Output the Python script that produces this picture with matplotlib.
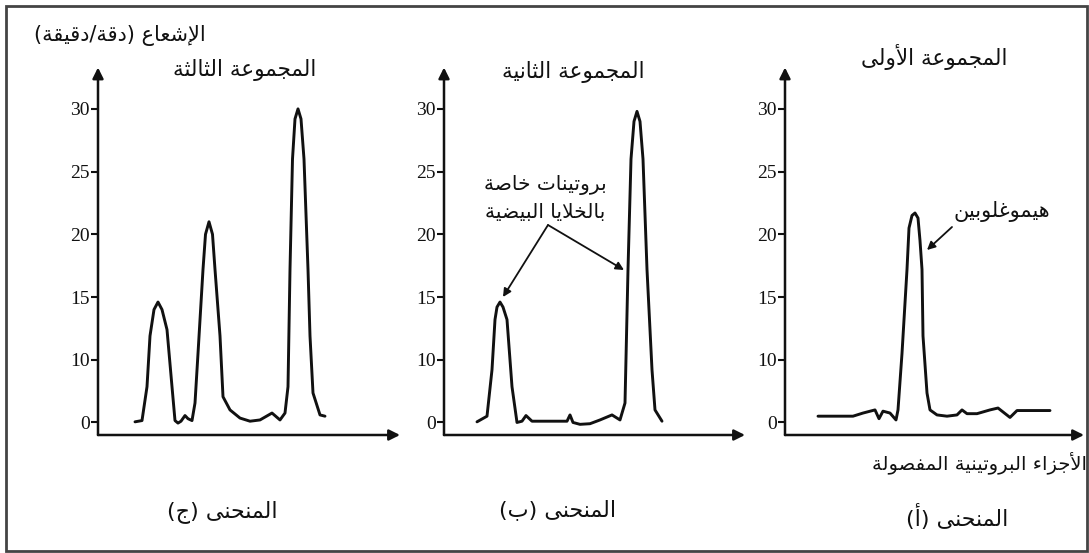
import numpy as np
import matplotlib
matplotlib.use("Agg")
import matplotlib.pyplot as plt
from matplotlib.patches import Rectangle

W, H = 1089, 553

# --- data (x = position along the fraction axis, y = radioactivity) ---
x_c = [3.7, 4.4, 4.9, 5.2, 5.6, 6.0, 6.4, 6.9, 7.4, 7.7, 8.0, 8.3, 8.7, 9.0, 9.4, 9.7,
       10.0, 10.5, 10.75, 11.1, 11.45, 11.7, 12.2, 12.5, 13.2, 14.2, 15.2, 16.2, 17.4,
       18.2, 18.7, 19.0, 19.2, 19.45, 19.7, 20.0, 20.3, 20.6, 21.0, 21.2, 21.5, 22.2, 22.7]
y_c = [0.1, 0.3, 5.7, 11.9, 14.0, 14.6, 14.0, 12.4, 5.7, 0.3, -0.1, 0.2, 1.1, 0.6, 0.3, 3.1,
       10.5, 17.2, 20.0, 21.0, 20.0, 17.2, 11.9, 4.1, 2.0, 0.7, 0.2, 0.4, 1.5,
       0.4, 1.5, 5.7, 17.2, 26.0, 29.2, 30.0, 29.2, 26.0, 17.2, 11.9, 4.7, 1.2, 1.0]

x_b = [3.3, 4.3, 4.8, 5.1, 5.3, 5.6, 5.9, 6.3, 6.8, 7.3, 7.8, 8.2, 8.8, 12.3, 12.6, 12.9,
       13.6, 14.6, 15.6, 16.8, 17.6, 18.1, 18.4, 18.7, 19.0, 19.3, 19.6, 19.9, 20.3,
       20.8, 21.1, 21.8]
y_b = [0.1, 1.0, 8.4, 13.2, 14.2, 14.6, 14.2, 13.2, 5.7, 0.0, 0.2, 1.1, 0.2, 0.2, 1.2, 0.0,
       -0.3, -0.2, 0.4, 1.2, 0.4, 3.1, 17.2, 26.0, 29.0, 29.8, 29.0, 26.0, 17.2,
       8.4, 2.0, 0.2]

x_a = [3.3, 6.8, 7.8, 9.0, 9.4, 9.8, 10.5, 11.1, 11.3, 11.7, 12.2, 12.4, 12.7, 13.0, 13.3,
       13.5, 13.7, 13.8, 14.2, 14.5, 15.2, 16.2, 17.2, 17.7, 18.2, 19.2, 20.5, 21.3,
       22.5, 23.2, 26.5]
y_a = [1.0, 1.0, 1.5, 2.0, 0.6, 1.8, 1.5, 0.4, 2.0, 10.5, 17.2, 20.5, 21.5, 21.7, 21.3,
       19.5, 17.2, 11.9, 4.7, 2.0, 1.2, 1.0, 1.2, 2.0, 1.4, 1.4, 2.0, 2.3,
       0.8, 1.9, 1.9]

y_ticks = [0, 10, 15, 20, 25, 30]
y_ticklabels = ['0', '10', '15', '20', '25', '30']

y_label = 'الإشعاع (دقة/دقيقة)'
x_label = 'الأجزاء البروتينية المفصولة'
titles = ['المجموعة الثالثة', 'المجموعة الثانية', 'المجموعة الأولى']
curves = ['المنحنى (ج)', 'المنحنى (ب)', 'المنحنى (أ)']
note_b = ['بروتينات خاصة', 'بالخلايا البيضية']
note_a = 'هيموغلوبين'

# --- small arabic shaper (presentation forms + visual order) ---
DUAL = {'ب': 0xFE8F, 'ت': 0xFE95, 'ث': 0xFE99, 'ج': 0xFE9D, 'ح': 0xFEA1, 'خ': 0xFEA5,
        'س': 0xFEB1, 'ش': 0xFEB5, 'ص': 0xFEB9, 'ض': 0xFEBD, 'ط': 0xFEC1, 'ظ': 0xFEC5,
        'ع': 0xFEC9, 'غ': 0xFECD, 'ف': 0xFED1, 'ق': 0xFED5, 'ك': 0xFED9, 'ل': 0xFEDD,
        'م': 0xFEE1, 'ن': 0xFEE5, 'ه': 0xFEE9, 'ي': 0xFEF1}
RIGHT = {'آ': 0xFE81, 'أ': 0xFE83, 'إ': 0xFE87, 'ا': 0xFE8D, 'ة': 0xFE93, 'د': 0xFEA9,
         'ذ': 0xFEAB, 'ر': 0xFEAD, 'ز': 0xFEAF, 'و': 0xFEED, 'ى': 0xFEEF,
         '\uFEF5': 0xFEF5, '\uFEF7': 0xFEF7, '\uFEF9': 0xFEF9, '\uFEFB': 0xFEFB}
NONJOIN = {'ء': 0xFE80}
LAMALEF = {'آ': '\uFEF5', 'أ': '\uFEF7', 'إ': '\uFEF9', 'ا': '\uFEFB'}


def ar(s):
    chars = []
    i = 0
    while i < len(s):
        if s[i] == 'ل' and i + 1 < len(s) and s[i + 1] in LAMALEF:
            chars.append(LAMALEF[s[i + 1]])
            i += 2
        else:
            chars.append(s[i])
            i += 1
    res = []
    for k, c in enumerate(chars):
        prev = chars[k - 1] if k > 0 else ''
        nxt = chars[k + 1] if k + 1 < len(chars) else ''
        jp = prev in DUAL and (c in DUAL or c in RIGHT)
        jn = c in DUAL and (nxt in DUAL or nxt in RIGHT)
        if c in DUAL:
            res.append(chr(DUAL[c] + (3 if jp and jn else 2 if jn else 1 if jp else 0)))
        elif c in RIGHT:
            res.append(chr(RIGHT[c] + (1 if jp else 0)))
        elif c in NONJOIN:
            res.append(chr(NONJOIN[c]))
        else:
            res.append(c)
    vis = ''.join(reversed(res))
    return vis.translate(str.maketrans('()', ')('))


# the printed axis puts "0" where 5 would sit, so squeeze 0..10 into one step
def fwd(v):
    v = np.asarray(v, dtype=float)
    return np.where(v < 10, 5 + v / 2, v)


def inv(p):
    p = np.asarray(p, dtype=float)
    return np.where(p < 10, (p - 5) * 2, p)


fig = plt.figure(figsize=(W / 100, H / 100), dpi=100)
AR = 'DejaVu Sans'
NUM = 'Liberation Serif'
INK = '#111111'


def px(x, y):
    return x / W, 1 - y / H


# panel boxes in pixels: (y axis x, arrow tip x)
panels = [(98, 400), (444, 745), (785, 1084)]
data = [(x_c, y_c), (x_b, y_b), (x_a, y_a)]
y_bot, y_top = 435, 67.5
for (x0, x1), (xs, ys) in zip(panels, data):
    ax = fig.add_axes([x0 / W, 1 - y_bot / H, (x1 - x0) / W, (y_bot - y_top) / H])
    ax.set_yscale('function', functions=(fwd, inv))
    ax.set_xlim(0, (x1 - x0) / 10)
    ax.set_ylim(-2.0, 33.3)
    ax.plot(xs, ys, color=INK, lw=2.1, solid_joinstyle='round', solid_capstyle='round')
    for s in ax.spines.values():
        s.set_visible(False)
    ax.set_xticks([])
    ax.set_yticks(y_ticks)
    ax.set_yticklabels(y_ticklabels, fontfamily=NUM, fontsize=14)
    ax.yaxis.set_minor_locator(matplotlib.ticker.NullLocator())
    ax.tick_params(axis='y', length=5, width=1.5, pad=1, colors=INK)
    ax.patch.set_alpha(0)
    arr = dict(arrowstyle='-|>', color=INK, lw=1.8, mutation_scale=16, shrinkA=0, shrinkB=0)
    ax.annotate('', xy=(1, 0), xytext=(0, 0), xycoords='axes fraction', arrowprops=arr, annotation_clip=False)
    ax.annotate('', xy=(0, 1), xytext=(0, 0), xycoords='axes fraction', arrowprops=arr, annotation_clip=False)

# texts
fig.text(*px(120, 35), ar(y_label), family=AR, fontsize=15, ha='center', va='center', color=INK)
title_pos = [(245, 70), (573, 72), (934, 57)]
for t, (x, y) in zip(titles, title_pos):
    fig.text(*px(x, y), ar(t), family=AR, fontsize=15.5, ha='center', va='center', color=INK)
curve_pos = [(222, 512), (558, 510), (957, 517)]
for t, (x, y) in zip(curves, curve_pos):
    fig.text(*px(x, y), ar(t), family=AR, fontsize=16, ha='center', va='center', color=INK)
fig.text(*px(1087, 463), ar(x_label), family=AR, fontsize=14, ha='right', va='center', color=INK)
fig.text(*px(545, 185), ar(note_b[0]), family=AR, fontsize=14.5, ha='center', va='center', color=INK)
fig.text(*px(545, 213), ar(note_b[1]), family=AR, fontsize=14.5, ha='center', va='center', color=INK)
fig.text(*px(1002, 212), ar(note_a), family=AR, fontsize=15, ha='center', va='center', color=INK)

# pointer arrows
pa = dict(arrowstyle='-|>', color=INK, lw=1.3, mutation_scale=12, shrinkA=0, shrinkB=0)
for tip in [(503, 297), (624, 270)]:
    fig.add_artist(matplotlib.text.Annotation('', xy=px(*tip), xytext=px(548, 225),
                                              xycoords='figure fraction', arrowprops=pa))
fig.add_artist(matplotlib.text.Annotation('', xy=px(927, 250), xytext=px(952, 227),
                                          xycoords='figure fraction', arrowprops=pa))

# outer frame
fig.add_artist(Rectangle(px(6, 551), 1081 / W, 545 / H, transform=fig.transFigure,
                         fill=False, edgecolor='#444444', lw=2))

fig.savefig('out.png', dpi=100)
